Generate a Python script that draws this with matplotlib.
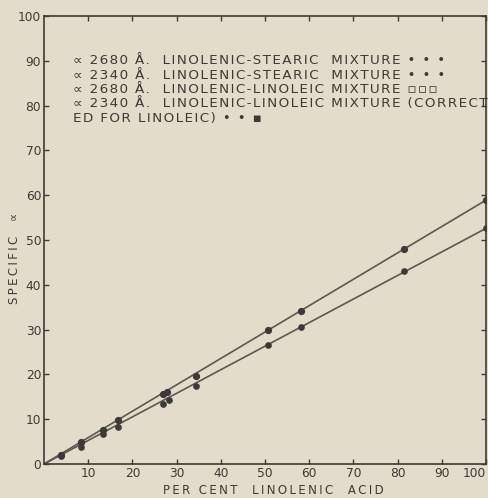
import matplotlib
matplotlib.use("Agg")
import matplotlib.pyplot as plt

# Colours
PAPER = "#e4dccb"
INK = "#3c3a36"
LINE = "#5a5851"

# Upper line (2680 A) points
upper_x = [3.8, 8.4, 13.4, 16.7, 27.0, 27.8, 34.4, 50.7, 58.1, 81.4, 100.0]
upper_y = [1.9, 4.8, 7.6, 9.8, 15.6, 16.0, 19.7, 29.8, 34.2, 48.0, 58.9]

# Lower line (2340 A) points
lower_x = [3.8, 8.4, 13.4, 16.7, 27.0, 28.3, 34.4, 50.7, 58.1, 81.4, 100.0]
lower_y = [1.8, 3.9, 6.7, 8.3, 13.3, 14.3, 17.3, 26.5, 30.6, 43.1, 52.6]

# Fitted straight lines through the origin
fit_x = [0, 100]
fit_upper = [0, 58.9]
fit_lower = [0, 52.6]

x_ticks = [10, 20, 30, 40, 50, 60, 70, 80, 90, 100]
y_ticks = [0, 10, 20, 30, 40, 50, 60, 70, 80, 90, 100]

legend_rows = [
    "\u221d 2680 \u00c5.  LINOLENIC-STEARIC  MIXTURE \u2022 \u2022 \u2022",
    "\u221d 2340 \u00c5.  LINOLENIC-STEARIC  MIXTURE \u2022 \u2022 \u2022",
    "\u221d 2680 \u00c5.  LINOLENIC-LINOLEIC MIXTURE \u25ab\u25ab\u25ab",
    "\u221d 2340 \u00c5.  LINOLENIC-LINOLEIC MIXTURE (CORRECT",
    "ED FOR LINOLEIC) \u2022 \u2022 \u25aa",
]


def spaced(s, gap="\u2009"):
    """wide lettering like the stencil text on the original"""
    return gap.join(s)


fig = plt.figure(figsize=(4.89, 4.98), dpi=100)
fig.patch.set_facecolor(PAPER)
ax = fig.add_axes([44 / 489, 1 - 464 / 498, 442 / 489, 448 / 498])
ax.set_facecolor(PAPER)

ax.plot(fit_x, fit_upper, color=LINE, lw=1.2)
ax.plot(fit_x, fit_lower, color=LINE, lw=1.2)
ax.plot(upper_x, upper_y, "o", color=INK, ms=4.2, mec=INK)
ax.plot(lower_x, lower_y, "o", color=INK, ms=3.8, mec=INK)

ax.set_xlim(0, 100)
ax.set_ylim(0, 100)
ax.set_xticks(x_ticks)
ax.set_yticks(y_ticks)
ax.tick_params(direction="in", length=3.5, width=1, colors=INK,
               labelsize=8.8, top=True, right=True, pad=2)
# last x label sits on the figure edge, keep it inside
ax.get_xticklabels()[-1].set_horizontalalignment("right")
for s in ax.spines.values():
    s.set_color(INK)
    s.set_linewidth(1.2)

ax.set_xlabel(spaced("PER CENT  LINOLENIC  ACID"), fontsize=8.5, color=INK)
ax.xaxis.set_label_coords(0.518, -0.045)
ax.set_ylabel(spaced("SPECIFIC  \u221d"), fontsize=8.5, color=INK)
ax.yaxis.set_label_coords(-0.052, 0.46)

for i, row in enumerate(legend_rows):
    ax.text(6.5, 90.0 - i * 3.2, spaced(row, "\u200a"), fontsize=9.7,
            color=INK, ha="left", va="center", clip_on=False)

fig.savefig("out.png", dpi=100, facecolor=PAPER)
